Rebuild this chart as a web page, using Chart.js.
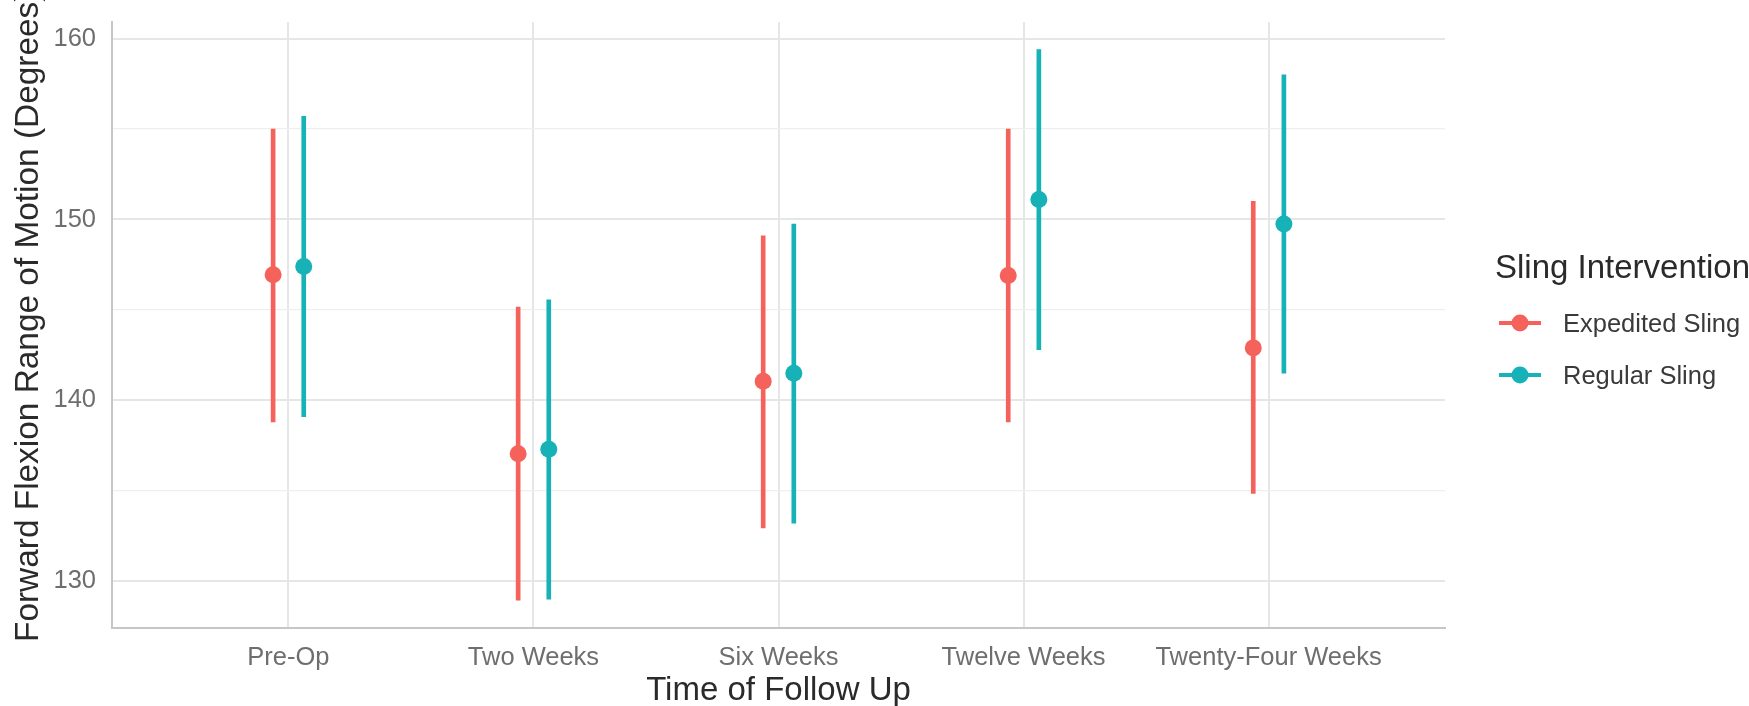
<!DOCTYPE html>
<html>
<head>
<meta charset="utf-8">
<script src="https://cdn.jsdelivr.net/npm/chart.js@4"></script>
<style>
  html, body { margin: 0; padding: 0; background: #fff; }
  #wrap { width: 1749px; height: 706px; }
</style>
</head>
<body>
<div id="wrap"><canvas id="chart" width="1749" height="706"></canvas></div>
<script>
const CATEGORIES = ['Pre-Op', 'Two Weeks', 'Six Weeks', 'Twelve Weeks', 'Twenty-Four Weeks'];
const SERIES     = ['Expedited Sling', 'Regular Sling'];

// means and interval ends
const EXP_MEAN = [146.95, 137.05, 141.05, 146.9, 142.9];
const EXP_LOW  = [138.8, 128.95, 132.95, 138.8, 134.85];
const EXP_HIGH = [155.0, 145.15, 149.1, 155.0, 151.0];
const REG_MEAN = [147.4, 137.3, 141.5, 151.1, 149.75];
const REG_LOW  = [139.1, 129.0, 133.2, 142.8, 141.5];
const REG_HIGH = [155.7, 145.55, 149.75, 159.4, 158.0];

const Y_GRID   = [130, 135, 140, 145, 150, 155, 160];
const Y_LABELS = [130, 140, 150, 160];

const RED  = '#F5625C';
const TEAL = '#16B2B7';
const FONT = '"Liberation Sans", Arial, Helvetica, sans-serif';
const DODGE = 0.0625;   // position_dodge, in category units

const at = (i, side) => i + 1 + side * DODGE;
const ranges = (lo, hi, side) => lo.map((v, i) => ({ x: at(i, side), y: [v, hi[i]] }));
const points = (m, side) => m.map((v, i) => ({ x: at(i, side), y: v }));

// legend on the right, ggplot style (line through a dot)
const slingLegend = {
  id: 'slingLegend',
  afterDraw(chart) {
    const ctx = chart.ctx;
    ctx.save();
    ctx.textBaseline = 'alphabetic';
    ctx.fillStyle = '#2a2a2a';
    ctx.font = `33px ${FONT}`;
    ctx.fillText('Sling Intervention', 1495, 278);
    [[RED, 323], [TEAL, 375]].forEach(([col, y], k) => {
      ctx.strokeStyle = col;
      ctx.lineWidth = 4;
      ctx.beginPath();
      ctx.moveTo(1499, y);
      ctx.lineTo(1541, y);
      ctx.stroke();
      ctx.fillStyle = col;
      ctx.beginPath();
      ctx.arc(1520, y, 8.5, 0, Math.PI * 2);
      ctx.fill();
      ctx.fillStyle = '#3a3a3a';
      ctx.font = `25.5px ${FONT}`;
      ctx.fillText(SERIES[k], 1563, y + 9);
    });
    ctx.restore();
  }
};

// y title, running off the top edge like the original
const yTitle = {
  id: 'yTitle',
  afterDraw(chart) {
    const ctx = chart.ctx;
    ctx.save();
    ctx.translate(38, 642);
    ctx.rotate(-Math.PI / 2);
    ctx.fillStyle = '#2a2a2a';
    ctx.font = `33.4px ${FONT}`;
    ctx.textBaseline = 'alphabetic';
    ctx.textAlign = 'left';
    ctx.fillText('Forward Flexion Range of Motion (Degrees)', 0, 0);
    ctx.restore();
  }
};

new Chart(document.getElementById('chart'), {
  type: 'bar',
  data: {
    datasets: [
      { type: 'bar', label: SERIES[0], data: ranges(EXP_LOW, EXP_HIGH, -1),
        backgroundColor: RED, barThickness: 4, grouped: false, order: 2 },
      { type: 'bar', label: SERIES[1], data: ranges(REG_LOW, REG_HIGH, 1),
        backgroundColor: TEAL, barThickness: 4, grouped: false, order: 2 },
      { type: 'scatter', label: SERIES[0], data: points(EXP_MEAN, -1),
        backgroundColor: RED, pointRadius: 8.5, pointBorderWidth: 0, order: 1 },
      { type: 'scatter', label: SERIES[1], data: points(REG_MEAN, 1),
        backgroundColor: TEAL, pointRadius: 8.5, pointBorderWidth: 0, order: 1 }
    ]
  },
  options: {
    responsive: false,
    animation: false,
    devicePixelRatio: 1,
    events: [],
    layout: { padding: { top: 22, right: 304, left: 0, bottom: 0 } },
    plugins: { legend: { display: false }, tooltip: { enabled: false } },
    scales: {
      x: {
        type: 'linear',
        min: 0.28, max: 5.72,
        offset: false,
        afterBuildTicks: s => { s.ticks = CATEGORIES.map((c, i) => ({ value: i + 1 })); },
        afterFit: s => { s.height = 78; s.paddingLeft = 0; s.paddingRight = 0; },
        ticks: {
          callback: v => CATEGORIES[Math.round(v) - 1],
          color: '#6e6e6e',
          font: { family: FONT, size: 25.5 },
          padding: 15,
          autoSkip: false,
          maxRotation: 0
        },
        grid: { color: '#E6E6E6', lineWidth: 2, drawTicks: false, offset: false },
        border: { display: true, color: '#C6C6C6', width: 2 },
        title: {
          display: true,
          text: 'Time of Follow Up',
          color: '#2a2a2a',
          font: { family: FONT, size: 33, lineHeight: 0.93 },
          padding: { top: 0, bottom: 0 }
        }
      },
      y: {
        min: 127.41, max: 160.92,
        afterBuildTicks: s => { s.ticks = Y_GRID.map(v => ({ value: v })); },
        afterFit: s => { s.width = 112; s.paddingTop = 0; s.paddingBottom = 0; },
        ticks: {
          callback: v => Y_LABELS.includes(v) ? String(v) : '',
          color: '#6e6e6e',
          font: { family: FONT, size: 25.5 },
          padding: 16
        },
        grid: {
          color: c => Y_LABELS.includes(c.tick && c.tick.value) ? '#E6E6E6' : '#EFEFEF',
          lineWidth: c => Y_LABELS.includes(c.tick && c.tick.value) ? 2 : 1.3,
          drawTicks: false
        },
        border: { display: true, color: '#C6C6C6', width: 2 }
      }
    }
  },
  plugins: [slingLegend, yTitle]
});
</script>
</body>
</html>
